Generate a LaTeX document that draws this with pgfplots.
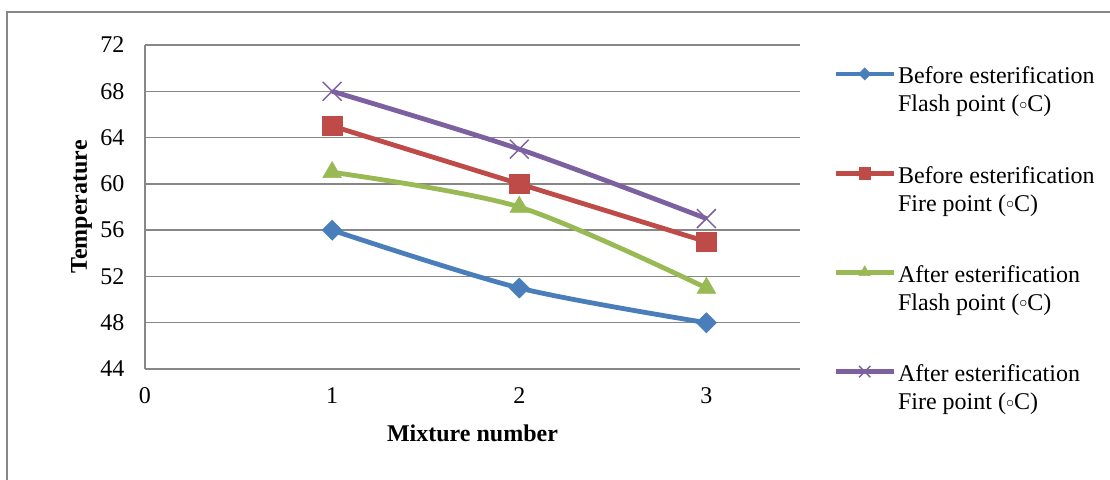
\documentclass[border=0pt]{standalone}
\usepackage{pgfplots}
\pgfplotsset{compat=1.18}
\usepackage{fontspec}
\setmainfont{Liberation Serif}
\definecolor{serBlue}{HTML}{4A7EBB}
\definecolor{serRed}{HTML}{BE4B48}
\definecolor{serGreen}{HTML}{98B954}
\definecolor{serPurple}{HTML}{7D60A0}
\definecolor{gridGray}{HTML}{878787}
\newcommand{\chartfont}{\fontsize{18}{21}\selectfont}
\newcommand{\degc}{(\raisebox{1.8pt}{\ensuremath{\scriptstyle\circ}}C)}
\begin{document}
\begin{tikzpicture}[x=1pt,y=1pt]
\useasboundingbox (-108.75,-82.5) rectangle (723.75,276.75);
% outer chart frame
\draw[gridGray, line width=1.1pt] (-103.5,-90) -- (-103.5,267.75) -- (730,267.75);
\begin{axis}[
  at={(0,0)}, anchor=south west,
  scale only axis, width=491.25pt, height=243pt,
  xmin=0, xmax=3.5, ymin=44, ymax=72,
  xtick={0,1,2,3}, ytick={44,48,...,72},
  axis x line*=bottom, axis y line*=left,
  axis line style={-, gridGray, line width=1.1pt},
  ymajorgrids, grid style={gridGray, line width=1.1pt},
  major tick length=0pt,
  tick label style={font=\chartfont},
  /pgf/number format/assume math mode=true,
  yticklabel style={xshift=-12pt},
  xticklabel style={yshift=-10.25pt},
  xlabel={Mixture number}, ylabel={Temperature},
  label style={font=\chartfont\bfseries},
  xlabel style={at={(axis description cs:0.5,-0.1975)}, anchor=center},
  ylabel style={at={(axis description cs:-0.097,0.5)}, anchor=center},
  clip=false,
  legend style={at={(1.0504,0.9333)}, anchor=north west, draw=none, fill=none,
    font=\chartfont, row sep=39.25pt, column sep=1.5pt, inner sep=0pt,
    nodes={inner sep=0pt, anchor=west, align=left, yshift=-12.3pt}},
  legend image code/.code={
    \draw[mark repeat=2, mark phase=2, #1, every mark/.append style={scale=0.6}]
      plot coordinates {(0pt,0pt) (21.75pt,0pt) (43.5pt,0pt)};
  },
  every axis plot/.append style={line width=3.6pt, smooth},
]
\addplot[serBlue, mark=square*, mark size=5.3pt,
  mark options={rotate=45, line width=0.5pt}]
  coordinates {(1,56) (2,51) (3,48)};
\addlegendentry{Before esterification\\Flash point \degc}
\addplot[serRed, mark=square*, mark size=7.3pt, mark options={line width=0.5pt}]
  coordinates {(1,65) (2,60) (3,55)};
\addlegendentry{Before esterification\\Fire point \degc}
\addplot[serGreen, mark=triangle*, mark size=8pt, mark options={line width=0.5pt}]
  coordinates {(1,61) (2,58) (3,51)};
\addlegendentry{After esterification\\Flash point \degc}
\addplot[serPurple, mark=x, mark size=10pt, mark options={line width=1.1pt}]
  coordinates {(1,68) (2,63) (3,57)};
\addlegendentry{After esterification\\Fire point \degc}
\end{axis}
\end{tikzpicture}
\end{document}
